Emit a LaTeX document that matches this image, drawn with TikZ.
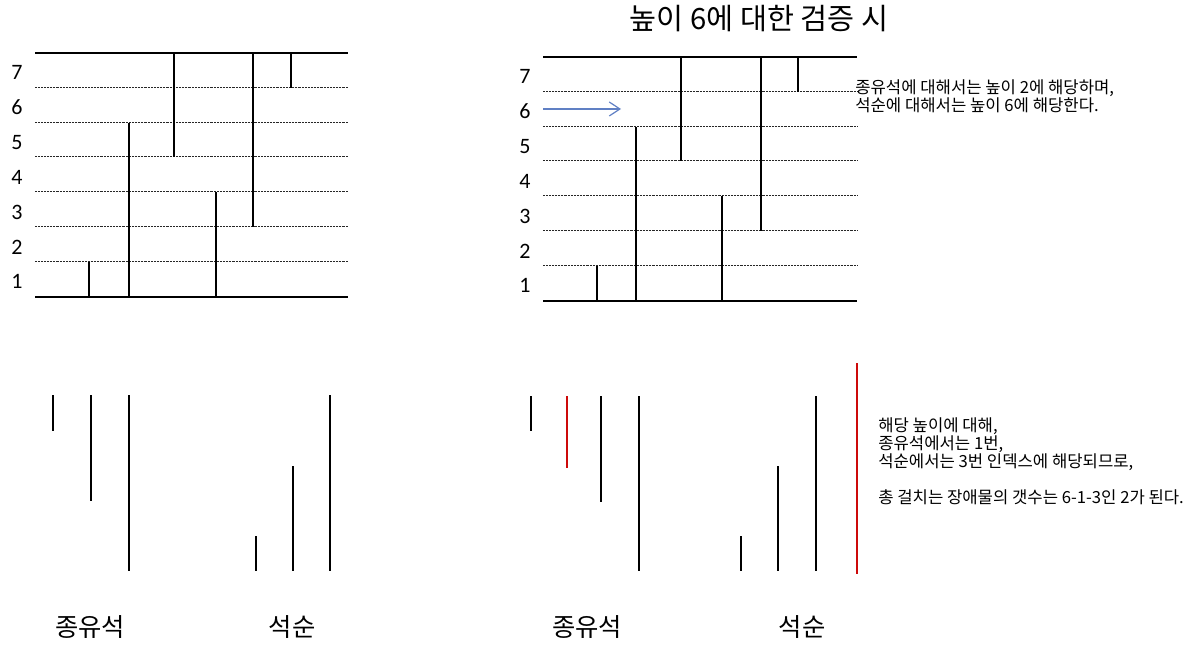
\documentclass[tikz,border=0pt]{standalone}
\usepackage{fontspec}
\setmainfont{Carlito}
\newfontfamily\kr{Noto Sans CJK KR}
\usetikzlibrary{arrows.meta}
\definecolor{arrowblue}{RGB}{96,128,196}
\definecolor{darkred}{RGB}{205,10,10}
\begin{document}
\begin{tikzpicture}[x=0.75pt,y=-0.75pt,
  solidline/.style={black, line width=0.9pt},
  dotline/.style={black!85, line width=0.75pt, dash pattern=on 0.55pt off 0.55pt},
  obst/.style={black, line width=0.9pt},
  redobst/.style={darkred, line width=0.9pt},
  num/.style={font=\fontsize{16.5}{20}\selectfont, anchor=base, inner sep=0pt},
  title/.style={font=\kr\fontsize{22}{26}\selectfont, anchor=base, inner sep=0pt},
  big/.style={font=\kr\fontsize{19}{23}\selectfont, anchor=base, inner sep=0pt},
  note/.style={font=\kr\fontsize{12.5}{15}\selectfont, anchor=base west, inner sep=0pt}]
\useasboundingbox (0,0) rectangle (1202,648);

% ---------- left grid (row lines y: 53 ... 297) ----------
\draw[solidline] (35,53) -- (348,53);
\draw[solidline] (35,297) -- (348,297);
\foreach \y in {88,123,157,192,227,262} \draw[dotline] (35,\y) -- (348,\y);
\foreach \n/\y in {7/80,6/115,5/150,4/185,3/220,2/255,1/289}
  \node[num] (lnum\n) at (17,\y) {\n};
\foreach \x/\a/\b in {89/262/297, 129/123/298, 174/53/157, 216/192/297, 253/53/227, 291/53/88}
  \draw[obst] (\x,\a) -- (\x,\b);

% ---------- right grid (row lines y: 57 ... 301) ----------
\draw[solidline] (543,57) -- (857,57);
\draw[solidline] (543,301) -- (857,301);
\foreach \y in {92,127,161,196,231,266} \draw[dotline] (543,\y) -- (857,\y);
\foreach \n/\y in {7/84,6/119,5/154,4/189,3/224,2/259,1/293}
  \node[num] (rnum\n) at (525,\y) {\n};
\foreach \x/\a/\b in {597/266/301, 636/127/302, 681/57/161, 722/196/301, 761/57/231, 798/57/92}
  \draw[obst] (\x,\a) -- (\x,\b);

\coordinate (arrS) at (543,109);
\coordinate (arrE) at (621,109);
\draw[arrowblue, line width=0.9pt, -{Straight Barb[length=8pt,width=10.5pt,line width=0.9pt]}] (arrS) -- (arrE);

% ---------- title and notes ----------
\node[title] (ttl) at (759,29.5) {높이 6에 대한 검증 시};
\node[note] (n1) at (855,93.5) {종유석에 대해서는 높이 2에 해당하며,};
\node[note] (n2) at (855,112) {석순에 대해서는 높이 6에 해당한다.};

% ---------- bottom left ----------
\draw[obst] (53,395) -- (53,431);
\draw[obst] (91,395) -- (91,501);
\draw[obst] (129,395) -- (129,571);
\draw[obst] (256,536) -- (256,571);
\draw[obst] (293,466) -- (293,571);
\draw[obst] (330,395) -- (330,571);
\node[big] (lbl1) at (90,636) {종유석};
\node[big] (lbl2) at (292,636) {석순};

% ---------- bottom right ----------
\draw[obst] (531,396) -- (531,431);
\draw[redobst] (567,396) -- (567,468);
\draw[obst] (601,396) -- (601,502);
\draw[obst] (639,396) -- (639,571);
\draw[obst] (741,536) -- (741,571);
\draw[obst] (778,466) -- (778,571);
\draw[obst] (816,396) -- (816,571);
\draw[redobst] (857,363) -- (857,574);
\node[big] (lbl3) at (587,636) {종유석};
\node[big] (lbl4) at (802,636) {석순};

\node[note] (m1) at (878,431) {해당 높이에 대해,};
\node[note] (m2) at (878,449) {종유석에서는 1번,};
\node[note] (m3) at (878,467) {석순에서는 3번 인덱스에 해당되므로,};
\node[note] (m4) at (878,503) {총 걸치는 장애물의 갯수는 6-1-3인 2가 된다.};
\end{tikzpicture}
\end{document}
